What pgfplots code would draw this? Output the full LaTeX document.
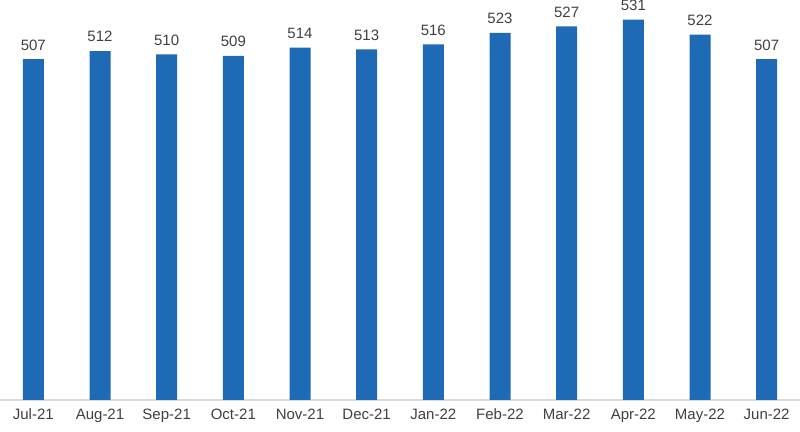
\documentclass[border=0pt]{standalone}
\usepackage{pgfplots}
\pgfplotsset{compat=1.18}
\usepackage{fontspec}
\setmainfont{Liberation Sans}
\definecolor{barblue}{HTML}{1F6AB5}
\definecolor{lbl}{HTML}{404040}
\definecolor{axgray}{HTML}{D9D9D9}
\begin{document}
\begin{tikzpicture}
\begin{axis}[
  scale only axis, width=400pt, height=200pt,
  ybar, bar width=10.5pt,
  xmin=-0.5, xmax=11.5, ymin=300, ymax=543,
  xtick=data,
  xticklabels={Jul-21,Aug-21,Sep-21,Oct-21,Nov-21,Dec-21,Jan-22,Feb-22,Mar-22,Apr-22,May-22,Jun-22},
  xticklabel style={font=\fontsize{7.5}{9}\selectfont, text=lbl, yshift=-1pt},
  major tick length=0,
  hide y axis,
  axis x line*=bottom,
  x axis line style={axgray, line width=0.6pt, -},
  nodes near coords,
  nodes near coords style={font=\fontsize{7.5}{9}\selectfont, text=lbl, yshift=1pt},
  /pgf/number format/assume math mode=true,
  /pgf/number format/1000 sep={},
  clip=false,
]
\addplot[fill=barblue, draw=none] coordinates {
(0,507) (1,512) (2,510) (3,509) (4,514) (5,513)
(6,516) (7,523) (8,527) (9,531) (10,522) (11,507)};
\end{axis}
\pgfresetboundingbox
\useasboundingbox (0,-16pt) rectangle (400pt,200pt);
\end{tikzpicture}
\end{document}
